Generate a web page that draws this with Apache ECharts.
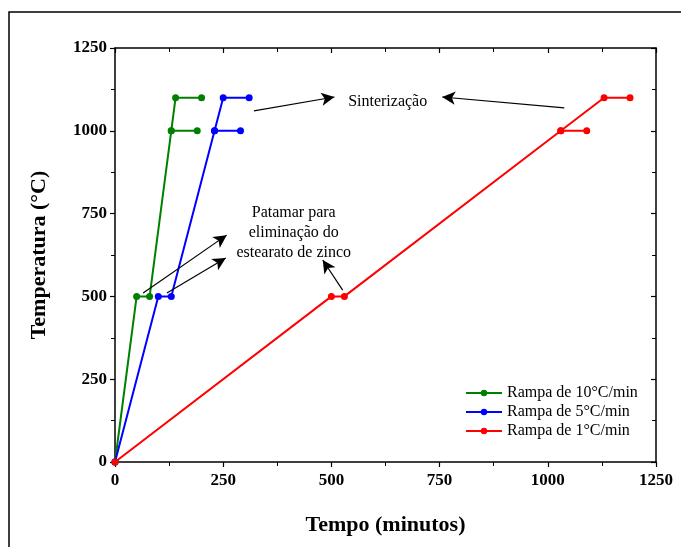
<!DOCTYPE html>
<html>
<head>
<meta charset="utf-8">
<script src="https://cdn.jsdelivr.net/npm/echarts@6/dist/echarts.min.js"></script>
<style>
  html, body { margin: 0; padding: 0; background: #fff; }
  #chart { width: 681px; height: 547px; }
</style>
</head>
<body>
<div id="chart"></div>
<script>
// tempo (min) e temperatura (°C) de cada rampa
const tempo10 = [0, 50, 80, 130, 190, 130, 140, 200]
const temp10 = [0, 500, 500, 1000, 1000, 1000, 1100, 1100]
const tempo5 = [0, 100, 130, 230, 290, 230, 250, 310]
const temp5 = [0, 500, 500, 1000, 1000, 1000, 1100, 1100]
const tempo1 = [0, 500, 530, 1030, 1090, 1030, 1130, 1190]
const temp1 = [0, 500, 500, 1000, 1000, 1000, 1100, 1100]

const seriesNames = ['Rampa de 10°C/min', 'Rampa de 5°C/min', 'Rampa de 1°C/min']
const seriesColors = ['#008000', '#0000ff', '#ff0000']

// setas de anotação: [x0, y0, x1, y1] em unidades dos eixos
const arrows = [
  [321, 1060, 507, 1102],
  [1038, 1069, 756, 1102],
  [65, 510, 258, 685],
  [120, 510, 256, 616],
  [526, 519, 480, 610]
]
const notes = [
  { x: 630, y: 1087, text: 'Sinterização' },
  { x: 413, y: 692, text: 'Patamar para\neliminação do\nestearato de zinco' }
]

const toPairs = (xs, ys) => xs.map((x, i) => [x, ys[i]])

const chart = echarts.init(document.getElementById('chart'))
const serif = 'Liberation Serif, Times New Roman, serif'

const axisCommon = {
  type: 'value',
  min: 0,
  max: 1250,
  interval: 250,
  axisLine: { show: true, onZero: false, lineStyle: { color: '#000', width: 1.5 } },
  axisTick: { show: true, length: 5, lineStyle: { color: '#000', width: 1.2 } },
  minorTick: { show: true, splitNumber: 2, length: 4, lineStyle: { color: '#000', width: 1 } },
  splitLine: { show: false },
  axisLabel: {
    color: '#000', fontFamily: serif, fontWeight: 'bold', fontSize: 17,
    formatter: v => String(v)
  }
}

const lineSeries = [[tempo10, temp10], [tempo5, temp5], [tempo1, temp1]].map((d, i) => ({
  name: seriesNames[i],
  type: 'line',
  data: toPairs(d[0], d[1]),
  symbol: 'circle',
  symbolSize: 7,
  color: seriesColors[i],
  lineStyle: { width: 2 },
  z: 3
}))

const option = {
  animation: false,
  textStyle: { fontFamily: serif },
  graphic: [{
    type: 'rect',
    shape: { x: 9, y: 12, width: 700, height: 600 },
    style: { fill: 'none', stroke: '#000', lineWidth: 1.5 },
    silent: true
  }],
  grid: { left: 115, right: 25, top: 48, bottom: 85 },
  legend: {
    data: seriesNames,
    orient: 'vertical',
    left: 460,
    top: 380,
    itemGap: 3,
    itemWidth: 36,
    itemHeight: 8,
    textStyle: { color: '#000', fontFamily: serif, fontSize: 16 }
  },
  xAxis: [
    Object.assign({}, axisCommon, {
      position: 'bottom',
      name: 'Tempo (minutos)',
      nameLocation: 'middle',
      nameGap: 52,
      nameTextStyle: { color: '#000', fontFamily: serif, fontWeight: 'bold', fontSize: 22 },
      axisLabel: Object.assign({}, axisCommon.axisLabel, { margin: 10 })
    }),
    Object.assign({}, axisCommon, {
      position: 'top',
      axisTick: Object.assign({}, axisCommon.axisTick, { inside: true }),
      axisLabel: { show: false }
    })
  ],
  yAxis: [
    Object.assign({}, axisCommon, {
      position: 'left',
      name: 'Temperatura (°C)',
      nameLocation: 'middle',
      nameGap: 65,
      nameTextStyle: { color: '#000', fontFamily: serif, fontWeight: 'bold', fontSize: 22 },
      axisLabel: Object.assign({}, axisCommon.axisLabel, { margin: 8 })
    }),
    Object.assign({}, axisCommon, {
      position: 'right',
      axisTick: Object.assign({}, axisCommon.axisTick, { inside: true }),
      axisLabel: { show: false }
    })
  ],
  series: lineSeries.concat([{
    name: 'anotacoes',
    type: 'line',
    data: [],
    silent: true,
    markLine: {
      silent: true,
      symbol: ['none', 'arrow'],
      symbolSize: [10, 13],
      label: { show: false },
      lineStyle: { color: '#000', width: 1.2, type: 'solid' },
      data: arrows.map(a => [{ coord: [a[0], a[1]] }, { coord: [a[2], a[3]] }])
    },
    markPoint: {
      silent: true,
      symbol: 'circle',
      symbolSize: 0,
      data: notes.map(n => ({
        coord: [n.x, n.y],
        label: {
          show: true,
          position: 'inside',
          formatter: n.text,
          color: '#000',
          fontFamily: serif,
          fontSize: 16,
          lineHeight: 20,
          align: 'center'
        }
      }))
    }
  }])
}

chart.setOption(option)
</script>
</body>
</html>
